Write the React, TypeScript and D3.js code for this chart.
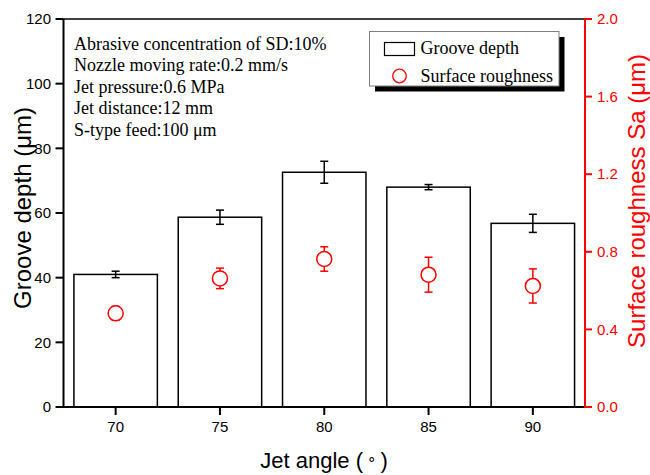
import React from "react";
import * as d3 from "d3";

const angles = ["70", "75", "80", "85", "90"];
const grooveDepth = [41.0, 58.7, 72.6, 68.0, 56.8];
const grooveErr = [1.0, 2.2, 3.4, 0.8, 2.8];
const roughness = [0.483, 0.663, 0.763, 0.682, 0.624];
const roughErr = [0.035, 0.053, 0.063, 0.09, 0.088];
const leftTicks = [0, 20, 40, 60, 80, 100, 120];
const rightTicks = [0, 0.4, 0.8, 1.2, 1.6, 2.0];
const infoLines = [
  "Abrasive concentration of SD:10%",
  "Nozzle moving rate:0.2 mm/s",
  "Jet pressure:0.6 MPa",
  "Jet distance:12 mm",
  "S-type feed:100 μm",
];
const legendLabels = ["Groove depth", "Surface roughness"];

const W = 650, H = 475;
const L = 63.5, R = 585, T = 19, B = 407;
const RED = "#FF0000";
const SANS = "Arial, 'Liberation Sans', Helvetica, sans-serif";
const SERIF = "'Times New Roman', 'Liberation Serif', serif";

export default function App() {
  const x = d3.scaleBand<string>().domain(angles).range([L, R]).paddingInner(0.2).paddingOuter(0.1);
  const yL = d3.scaleLinear().domain([0, 120]).range([B, T]);
  const yR = d3.scaleLinear().domain([0, 2]).range([B, T]);
  const bw = x.bandwidth();
  const cx = (a: string) => (x(a) as number) + bw / 2;
  const cap = 4;

  return (
    <svg width={W} height={H} style={{ position: "absolute", left: 0, top: 0, background: "#fff" }}>
      <rect x={0} y={0} width={W} height={H} fill="#fff" />
      {/* bars */}
      {angles.map((a, i) => (
        <rect key={"b" + a} x={x(a)} y={yL(grooveDepth[i])} width={bw} height={B - yL(grooveDepth[i])}
          fill="#fff" stroke="#000" strokeWidth={1.5} />
      ))}
      {/* bar error bars */}
      {angles.map((a, i) => {
        const c = cx(a);
        const y1 = yL(grooveDepth[i] + grooveErr[i]);
        const y2 = yL(grooveDepth[i] - grooveErr[i]);
        return (
          <g key={"be" + a} stroke="#000" strokeWidth={1.5}>
            <line x1={c} x2={c} y1={y1} y2={y2} />
            <line x1={c - cap} x2={c + cap} y1={y1} y2={y1} />
            <line x1={c - cap} x2={c + cap} y1={y2} y2={y2} />
          </g>
        );
      })}
      {/* roughness points */}
      {angles.map((a, i) => {
        const c = cx(a);
        const y1 = yR(roughness[i] + roughErr[i]);
        const y2 = yR(roughness[i] - roughErr[i]);
        return (
          <g key={"r" + a} stroke={RED} strokeWidth={1.5}>
            <line x1={c} x2={c} y1={y1} y2={y2} />
            <line x1={c - cap} x2={c + cap} y1={y1} y2={y1} />
            <line x1={c - cap} x2={c + cap} y1={y2} y2={y2} />
            <circle cx={c} cy={yR(roughness[i])} r={7.5} fill="#fff" />
          </g>
        );
      })}
      {/* frame */}
      <line x1={L} x2={R} y1={T} y2={T} stroke="#000" strokeWidth={1.5} />
      <line x1={L} x2={R} y1={B} y2={B} stroke="#000" strokeWidth={2} />
      <line x1={L} x2={L} y1={T} y2={B + 1} stroke="#000" strokeWidth={2} />
      <line x1={R} x2={R} y1={T} y2={B + 1} stroke={RED} strokeWidth={2} />
      {/* left ticks */}
      {leftTicks.map((t) => (
        <g key={"lt" + t}>
          <line x1={L - 8} x2={L} y1={yL(t)} y2={yL(t)} stroke="#000" strokeWidth={2} />
          <text x={51} y={yL(t)} dy="0.35em" textAnchor="end" fontFamily={SANS} fontSize={15} fill="#000">{t}</text>
        </g>
      ))}
      {/* right ticks */}
      {rightTicks.map((t) => (
        <g key={"rt" + t}>
          <line x1={R} x2={R + 7} y1={yR(t)} y2={yR(t)} stroke={RED} strokeWidth={2} />
          <text x={597} y={yR(t)} dy="0.35em" textAnchor="start" fontFamily={SANS} fontSize={15} fill={RED}>{t.toFixed(1)}</text>
        </g>
      ))}
      {/* x ticks */}
      {angles.map((a) => (
        <g key={"xt" + a}>
          <line x1={cx(a)} x2={cx(a)} y1={B} y2={B + 8} stroke="#000" strokeWidth={2} />
          <text x={cx(a)} y={432} textAnchor="middle" fontFamily={SANS} fontSize={15} fill="#000">{a}</text>
        </g>
      ))}
      {/* axis titles */}
      <text x={324} y={468} textAnchor="middle" fontFamily={SANS} fontSize={22} fill="#000">
        Jet angle (<tspan fontSize={15} dy={-4}> ∘ </tspan><tspan dy={4}>)</tspan>
      </text>
      <text transform="translate(31,208) rotate(-90)" textAnchor="middle" fontFamily={SANS} fontSize={24} fill="#000">Groove depth (μm)</text>
      <text transform="translate(645,201) rotate(-90)" textAnchor="middle" fontFamily={SANS} fontSize={24} fill={RED}>Surface roughness Sa (μm)</text>
      {/* info text */}
      {infoLines.map((s, i) => (
        <text key={"info" + i} x={74} y={49.5 + i * 21.5} fontFamily={SERIF} fontSize={18} fill="#000">{s}</text>
      ))}
      {/* legend */}
      <rect x={375} y={37} width={189.5} height={54.5} fill="#000" />
      <rect x={369.5} y={31.5} width={189.5} height={54.5} fill="#fff" stroke="#808080" strokeWidth={1} />
      <rect x={384.5} y={42.5} width={30} height={13} fill="#fff" stroke="#000" strokeWidth={1.2} />
      <text x={420.5} y={53.5} fontFamily={SERIF} fontSize={18} fill="#000">{legendLabels[0]}</text>
      <circle cx={399.5} cy={76} r={6.8} fill="none" stroke={RED} strokeWidth={1.3} />
      <text x={420.5} y={81.5} fontFamily={SERIF} fontSize={18} fill="#000">{legendLabels[1]}</text>
    </svg>
  );
}
